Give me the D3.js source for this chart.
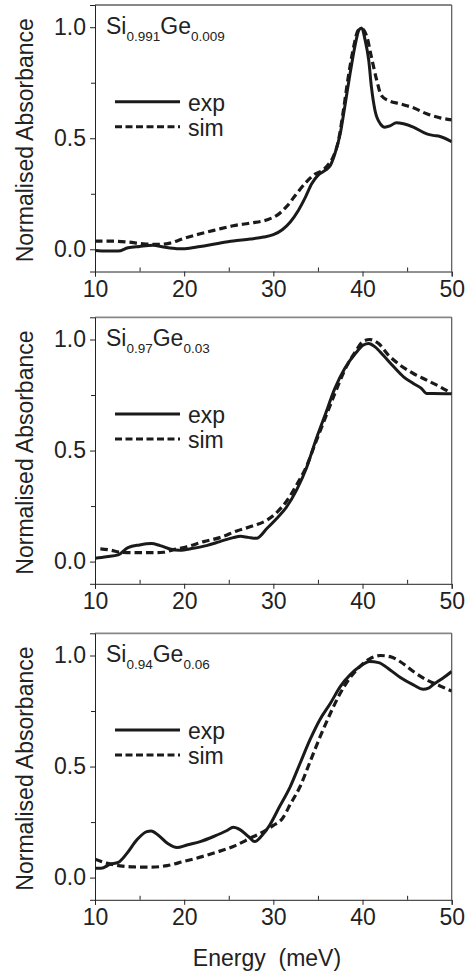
<!DOCTYPE html>
<html>
<head>
<meta charset="utf-8">
<script src="https://cdn.jsdelivr.net/npm/d3@7"></script>
<style>
  body { margin: 0; background: #fff; }
  svg { display: block; }
  text { font-family: "Liberation Sans", Arial, sans-serif; fill: #222; }
</style>
</head>
<body>
<div id="chart"></div>
<script>
// Datos: energia (meV) y absorbancia normalizada
const exp1X = [10, 11.3, 12.6, 13.7, 15, 16.5, 17.7, 19.2, 20.1, 21.8, 23.6, 25.5, 27.4, 28.9, 30, 31, 31.9, 32.8, 33.6, 34.3, 35, 35.8, 36.4, 36.9, 37.5, 38, 38.6, 39.2, 39.6, 39.9, 40.3, 40.7, 41, 41.4, 42, 42.5, 43.1, 43.8, 44.6, 45.7, 47.2, 47.9, 48.7, 50];
const exp1Y = [-0.005, -0.008, -0.008, 0.007, 0.013, 0.018, 0.01, 0.003, 0.003, 0.013, 0.025, 0.037, 0.046, 0.055, 0.066, 0.088, 0.123, 0.175, 0.235, 0.295, 0.333, 0.355, 0.378, 0.43, 0.52, 0.64, 0.79, 0.925, 0.988, 0.997, 0.94, 0.85, 0.73, 0.625, 0.565, 0.55, 0.556, 0.57, 0.565, 0.55, 0.52, 0.513, 0.508, 0.484];
const sim1X = [10, 11.7, 13.6, 15.4, 17.3, 18.4, 19.9, 21.8, 23.6, 25.5, 27.4, 29.3, 30.4, 31.5, 32.6, 33.7, 34.6, 35.4, 36.1, 36.7, 37.3, 37.8, 38.4, 39, 39.5, 39.9, 40.5, 41, 41.6, 42.1, 42.9, 44.2, 45.7, 47.2, 48.7, 50];
const sim1Y = [0.037, 0.037, 0.033, 0.025, 0.022, 0.028, 0.048, 0.07, 0.088, 0.106, 0.118, 0.133, 0.153, 0.193, 0.25, 0.303, 0.337, 0.352, 0.378, 0.415, 0.49, 0.61, 0.775, 0.91, 0.985, 0.993, 0.955, 0.865, 0.76, 0.693, 0.67, 0.655, 0.637, 0.61, 0.592, 0.583];

const exp2X = [10, 11.3, 12.6, 13.7, 15, 16.3, 17.3, 18.4, 19.5, 21, 22.5, 24, 25.5, 26.3, 27.2, 28.1, 29.3, 30.4, 31.5, 32.6, 33.7, 34.7, 35.8, 36.9, 38, 39.2, 40.1, 40.7, 41.4, 42.3, 43.5, 44.6, 45.7, 46.6, 47.2, 47.9, 50];
const exp2Y = [0.015, 0.022, 0.03, 0.063, 0.075, 0.081, 0.072, 0.057, 0.051, 0.06, 0.072, 0.09, 0.108, 0.114, 0.109, 0.105, 0.15, 0.195, 0.247, 0.322, 0.42, 0.54, 0.66, 0.78, 0.87, 0.937, 0.975, 0.982, 0.967, 0.93, 0.877, 0.832, 0.802, 0.78, 0.757, 0.757, 0.756];
const sim2X = [10.6, 11.7, 12.8, 14.3, 16.2, 17.7, 18.8, 20.3, 22.2, 24, 25.9, 27.8, 29.3, 30.4, 31.5, 32.6, 33.7, 34.7, 35.8, 36.9, 38, 39.2, 40.1, 40.8, 41.8, 42.9, 44.2, 45.7, 47.2, 48.7, 50];
const sim2Y = [0.057, 0.052, 0.042, 0.04, 0.04, 0.042, 0.054, 0.067, 0.09, 0.108, 0.138, 0.162, 0.187, 0.222, 0.273, 0.345, 0.427, 0.532, 0.645, 0.757, 0.862, 0.945, 0.993, 1.0, 0.982, 0.93, 0.885, 0.847, 0.817, 0.787, 0.757];

const exp3X = [10, 10.7, 11.7, 12.6, 13.6, 14.7, 15.8, 16.3, 17.1, 18.2, 19.2, 20.3, 21.8, 23.3, 24.8, 25.5, 26.3, 27.2, 27.9, 28.7, 29.6, 30.7, 31.9, 33, 34.1, 35.2, 36.4, 37.5, 38.6, 39.7, 40.8, 41.8, 43.1, 44.2, 45.7, 46.8, 47.4, 47.9, 49, 50];
const exp3Y = [0.042, 0.042, 0.06, 0.068, 0.11, 0.17, 0.207, 0.21, 0.191, 0.152, 0.135, 0.147, 0.162, 0.185, 0.212, 0.227, 0.215, 0.185, 0.162, 0.188, 0.237, 0.32, 0.41, 0.515, 0.62, 0.71, 0.785, 0.86, 0.913, 0.95, 0.973, 0.968, 0.935, 0.902, 0.868, 0.848, 0.853, 0.868, 0.898, 0.928];
const sim3X = [10, 11.3, 12.8, 14.3, 16.2, 18.1, 19.9, 21.8, 23.6, 25.5, 27.4, 28.9, 30, 31, 31.9, 33, 34.1, 35.2, 36.4, 37.5, 38.6, 39.7, 40.8, 42, 43.1, 44.2, 45.7, 47.2, 48.7, 50];
const sim3Y = [0.083, 0.065, 0.053, 0.048, 0.047, 0.054, 0.072, 0.092, 0.114, 0.14, 0.177, 0.207, 0.235, 0.265, 0.33, 0.41, 0.52, 0.63, 0.74, 0.83, 0.9, 0.95, 0.985, 1.0, 0.995, 0.973, 0.928, 0.89, 0.863, 0.84];

// Etiquetas de cada panel: [Si, subindice Si, Ge, subindice Ge]
const titulos = [
  ["Si", "0.991", "Ge", "0.009"],
  ["Si", "0.97", "Ge", "0.03"],
  ["Si", "0.94", "Ge", "0.06"]
];
const xTicks = [10, 20, 30, 40, 50];
const xMinor = [15, 25, 35, 45];
const yTicks = [0.0, 0.5, 1.0];
const yMinor = [0.25, 0.75];
const leyenda = ["exp", "sim"];

const WIDTH = 471, HEIGHT = 980;
const left = 95, right = 451.7;
const panelTops = [5, 317.3, 633.3];
const panelH = 266.5;

const svg = d3.select("#chart").append("svg")
  .attr("width", WIDTH).attr("height", HEIGHT);

const x = d3.scaleLinear().domain([10, 50]).range([left, right]);

const paneles = [
  { exp: [exp1X, exp1Y], sim: [sim1X, sim1Y] },
  { exp: [exp2X, exp2Y], sim: [sim2X, sim2Y] },
  { exp: [exp3X, exp3Y], sim: [sim3X, sim3Y] }
];

paneles.forEach(function (p, i) {
  const top = panelTops[i];
  const bottom = top + panelH;
  const y = d3.scaleLinear().domain([-0.1, 1.1]).range([bottom, top]);
  const g = svg.append("g");

  g.append("clipPath").attr("id", "clip" + i)
    .append("rect").attr("x", left).attr("y", top)
    .attr("width", right - left).attr("height", panelH);

  // marco gris arriba y a la derecha
  g.append("line").attr("x1", left).attr("x2", right).attr("y1", top).attr("y2", top)
    .attr("stroke", "#888").attr("stroke-width", 1.8);
  g.append("line").attr("x1", right).attr("x2", right).attr("y1", top).attr("y2", bottom)
    .attr("stroke", "#555").attr("stroke-width", 1.2);

  // eje x
  const xAxis = g.append("g").attr("transform", "translate(0," + bottom + ")")
    .call(d3.axisBottom(x).tickValues(xTicks).tickSize(5).tickPadding(4).tickFormat(d3.format("d")));
  xAxis.selectAll("text").attr("font-size", 23).attr("fill", "#222")
    .attr("font-family", "Liberation Sans, Arial, sans-serif");
  g.append("g").attr("transform", "translate(0," + bottom + ")")
    .call(d3.axisBottom(x).tickValues(xMinor).tickSize(-4).tickFormat(""))
    .select(".domain").remove();

  // eje y
  const yAxis = g.append("g").attr("transform", "translate(" + left + ",0)")
    .call(d3.axisLeft(y).tickValues(yTicks).tickSize(5).tickPadding(4).tickFormat(d3.format(".1f")));
  yAxis.selectAll("text").attr("font-size", 23).attr("fill", "#222")
    .attr("font-family", "Liberation Sans, Arial, sans-serif");
  g.append("g").attr("transform", "translate(" + left + ",0)")
    .call(d3.axisLeft(y).tickValues(yMinor).tickSize(4).tickFormat(""))
    .select(".domain").remove();
  g.selectAll(".domain").attr("stroke", "#222");
  g.selectAll(".tick line").attr("stroke", "#222");

  // titulo del eje y
  g.append("text")
    .attr("transform", "translate(33," + (top + panelH / 2 + 2) + ") rotate(-90)")
    .attr("text-anchor", "middle")
    .attr("font-size", 23)
    .text("Normalised Absorbance");

  // curvas
  const line = d3.line()
    .x(d => x(d[0])).y(d => y(d[1]))
    .curve(d3.curveMonotoneX);
  const datosExp = p.exp[0].map((v, k) => [v, p.exp[1][k]]);
  const datosSim = p.sim[0].map((v, k) => [v, p.sim[1][k]]);

  g.append("path").datum(datosSim)
    .attr("clip-path", "url(#clip" + i + ")")
    .attr("d", line).attr("fill", "none")
    .attr("stroke", "#1a1a1a").attr("stroke-width", 3.2)
    .attr("stroke-dasharray", "7.5,4");
  g.append("path").datum(datosExp)
    .attr("clip-path", "url(#clip" + i + ")")
    .attr("d", line).attr("fill", "none")
    .attr("stroke", "#1a1a1a").attr("stroke-width", 3);

  // composicion
  const t = titulos[i];
  const tt = g.append("text").attr("x", 106).attr("y", top + 29).attr("font-size", 23);
  tt.append("tspan").text(t[0]);
  tt.append("tspan").attr("font-size", 13.5).attr("dy", 7).text(t[1]);
  tt.append("tspan").attr("dy", -7).text(t[2]);
  tt.append("tspan").attr("font-size", 13.5).attr("dy", 7).text(t[3]);

  // leyenda
  leyenda.forEach(function (nombre, k) {
    const ly = top + 96.7 + k * 25;
    g.append("line").attr("x1", 115).attr("x2", 180).attr("y1", ly).attr("y2", ly)
      .attr("stroke", "#1a1a1a").attr("stroke-width", 3)
      .attr("stroke-dasharray", k === 1 ? "7,3.5" : null);
    g.append("text").attr("x", 188).attr("y", ly + 9).attr("font-size", 23).text(nombre);
  });
});

// titulo del eje x
svg.append("text")
  .attr("x", 267).attr("y", 966)
  .attr("text-anchor", "middle")
  .attr("font-size", 23)
  .attr("xml:space", "preserve")
  .text("Energy  (meV)");
</script>
</body>
</html>
